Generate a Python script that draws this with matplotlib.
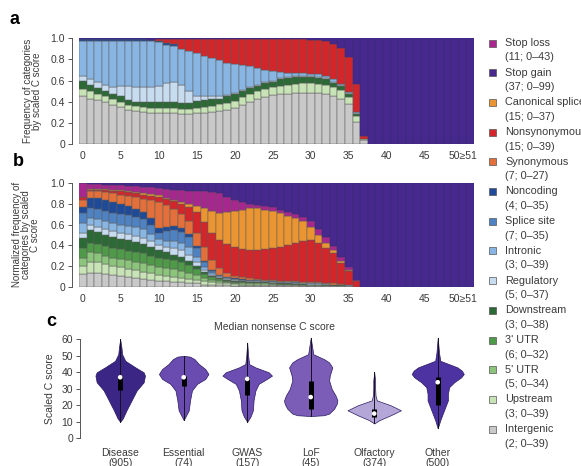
import numpy as np
import matplotlib
matplotlib.use("Agg")
import matplotlib.pyplot as plt
from matplotlib.patches import Rectangle

plt.rcParams['font.family'] = ['Liberation Sans', 'DejaVu Sans']

W, H = 581, 466
N_BARS = 52
TXT = '#3a3a3a'

# ---- colours per category ----
colors = {
    'Stop loss': '#a8278f',
    'Stop gain': '#47298e',
    'Canonical splice': '#ea9532',
    'Nonsynonymous': '#d2262b',
    'Synonymous': '#e3703a',
    'Noncoding': '#1f4a98',
    'Splice site': '#4f82c2',
    'Intronic': '#88b5e2',
    'Regulatory': '#c8dcf0',
    'Downstream': '#2c6a35',
    "3' UTR": '#4e9a48',
    "5' UTR": '#8cc47c',
    'Upstream': '#c8e4b6',
    'Intergenic': '#c9c9c9',
}
legend_names = ['Stop loss', 'Stop gain', 'Canonical splice', 'Nonsynonymous',
                'Synonymous', 'Noncoding', 'Splice site', 'Intronic', 'Regulatory',
                'Downstream', "3' UTR", "5' UTR", 'Upstream', 'Intergenic']
legend_stats = ['(11; 0\u201343)', '(37; 0\u201399)', '(15; 0\u201337)', '(15; 0\u201339)',
                '(7; 0\u201327)', '(4; 0\u201335)', '(7; 0\u201335)', '(3; 0\u201339)',
                '(5; 0\u201337)', '(3; 0\u201338)', '(6; 0\u201332)', '(5; 0\u201334)',
                '(3; 0\u201339)', '(2; 0\u201339)']

# ---- panel a: cumulative upper edge of each category, bins 0..37 (rest is stop gain) ----
a_intergenic = [0.45, 0.43, 0.42, 0.40, 0.37, 0.35, 0.32, 0.31, 0.30, 0.29, 0.29, 0.29, 0.29,
                0.28, 0.28, 0.29, 0.29, 0.30, 0.31, 0.32, 0.34, 0.37, 0.40, 0.43, 0.44, 0.46,
                0.47, 0.47, 0.48, 0.48, 0.48, 0.48, 0.47, 0.45, 0.43, 0.38, 0.21, 0.04]
a_upstream = [0.52, 0.50, 0.47, 0.45, 0.43, 0.40, 0.37, 0.36, 0.35, 0.34, 0.34, 0.34, 0.34,
              0.33, 0.33, 0.34, 0.35, 0.36, 0.38, 0.39, 0.41, 0.44, 0.47, 0.50, 0.52, 0.54,
              0.55, 0.56, 0.57, 0.58, 0.58, 0.57, 0.56, 0.54, 0.51, 0.44, 0.26, 0.05]
a_downstream = [0.60, 0.56, 0.53, 0.50, 0.47, 0.45, 0.42, 0.40, 0.40, 0.40, 0.40, 0.40, 0.40,
                0.39, 0.39, 0.41, 0.42, 0.43, 0.43, 0.45, 0.47, 0.50, 0.53, 0.55, 0.58, 0.59,
                0.61, 0.62, 0.63, 0.63, 0.63, 0.62, 0.61, 0.58, 0.55, 0.47, 0.28, 0.05]
a_regulatory = [0.64, 0.61, 0.59, 0.56, 0.54, 0.55, 0.55, 0.54, 0.54, 0.54, 0.55, 0.58, 0.59,
                0.56, 0.50, 0.45, 0.45, 0.45, 0.45, 0.46, 0.48, 0.51, 0.54, 0.56, 0.59, 0.60,
                0.62, 0.63, 0.64, 0.64, 0.64, 0.63, 0.62, 0.59, 0.56, 0.48, 0.29, 0.05]
a_intronic = [0.975, 0.975, 0.975, 0.975, 0.975, 0.975, 0.975, 0.975, 0.975, 0.97, 0.96, 0.94,
              0.93, 0.90, 0.88, 0.86, 0.83, 0.81, 0.79, 0.77, 0.76, 0.75, 0.74, 0.72, 0.70,
              0.69, 0.68, 0.675, 0.67, 0.67, 0.665, 0.66, 0.64, 0.61, 0.57, 0.49, 0.30, 0.05]
a_noncoding = [0.99, 0.99, 0.99, 0.99, 0.99, 0.99, 0.99, 0.99, 0.99, 0.985, 0.975, 0.955,
               0.945, 0.90, 0.88, 0.86, 0.83, 0.81, 0.79, 0.77, 0.76, 0.75, 0.74, 0.72, 0.70,
               0.69, 0.68, 0.675, 0.67, 0.67, 0.665, 0.66, 0.64, 0.61, 0.57, 0.49, 0.30, 0.05]
a_nonsyn = [0.99, 0.99, 0.99, 0.99, 0.99, 0.99, 0.99, 0.99, 0.99, 0.985, 0.99, 0.99, 0.99,
            0.99, 0.99, 0.99, 0.99, 0.99, 0.99, 0.99, 0.99, 0.99, 0.99, 0.99, 0.99, 0.99,
            0.99, 0.99, 0.99, 0.99, 0.985, 0.98, 0.97, 0.95, 0.91, 0.82, 0.57, 0.08]

# ---- panel b: normalized, cumulative upper edges, bins 0..37 ----
b_intergenic = [0.12, 0.13, 0.13, 0.12, 0.11, 0.10, 0.09, 0.08, 0.07, 0.06, 0.05, 0.05, 0.04,
                0.04, 0.03, 0.03, 0.02, 0.02, 0.02, 0.015, 0.01, 0.01, 0.01, 0.01, 0.01, 0.01,
                0.01, 0.01, 0.01, 0.005, 0.005, 0.005, 0.005, 0.005, 0.005, 0.005, 0.0, 0.0]
b_upstream = [0.20, 0.24, 0.24, 0.22, 0.20, 0.19, 0.17, 0.16, 0.14, 0.13, 0.11, 0.10, 0.09,
              0.08, 0.07, 0.06, 0.05, 0.04, 0.035, 0.03, 0.025, 0.02, 0.02, 0.02, 0.02, 0.02,
              0.015, 0.015, 0.015, 0.01, 0.01, 0.01, 0.01, 0.01, 0.01, 0.01, 0.0, 0.0]
b_utr5 = [0.28, 0.33, 0.32, 0.30, 0.28, 0.27, 0.26, 0.24, 0.23, 0.21, 0.19, 0.18, 0.17, 0.15,
          0.13, 0.11, 0.08, 0.06, 0.05, 0.04, 0.035, 0.03, 0.03, 0.03, 0.03, 0.025, 0.02, 0.02,
          0.02, 0.015, 0.015, 0.015, 0.01, 0.01, 0.01, 0.01, 0.0, 0.0]
b_utr3 = [0.37, 0.42, 0.41, 0.39, 0.37, 0.36, 0.34, 0.33, 0.32, 0.30, 0.28, 0.27, 0.26, 0.24,
          0.21, 0.17, 0.12, 0.09, 0.07, 0.055, 0.045, 0.04, 0.035, 0.035, 0.035, 0.03, 0.025,
          0.025, 0.02, 0.02, 0.02, 0.015, 0.015, 0.01, 0.01, 0.01, 0.0, 0.0]
b_downstream = [0.47, 0.55, 0.53, 0.50, 0.48, 0.46, 0.45, 0.43, 0.41, 0.38, 0.35, 0.33, 0.31,
                0.29, 0.25, 0.20, 0.14, 0.10, 0.08, 0.065, 0.055, 0.05, 0.045, 0.045, 0.04,
                0.035, 0.03, 0.03, 0.025, 0.025, 0.02, 0.02, 0.02, 0.015, 0.015, 0.01, 0.0, 0.0]
b_regulatory = [0.52, 0.60, 0.58, 0.56, 0.54, 0.52, 0.51, 0.49, 0.47, 0.44, 0.40, 0.38, 0.37,
                0.35, 0.31, 0.24, 0.16, 0.115, 0.09, 0.075, 0.06, 0.055, 0.05, 0.05, 0.045,
                0.04, 0.035, 0.035, 0.03, 0.03, 0.025, 0.025, 0.02, 0.02, 0.015, 0.01, 0.0, 0.0]
b_intronic = [0.61, 0.66, 0.65, 0.63, 0.61, 0.60, 0.59, 0.58, 0.56, 0.51, 0.46, 0.44, 0.44,
              0.42, 0.38, 0.29, 0.19, 0.13, 0.10, 0.085, 0.07, 0.06, 0.055, 0.055, 0.05, 0.045,
              0.04, 0.04, 0.035, 0.03, 0.03, 0.03, 0.025, 0.02, 0.02, 0.015, 0.0, 0.0]
b_splice = [0.71, 0.76, 0.75, 0.73, 0.71, 0.70, 0.69, 0.67, 0.65, 0.60, 0.52, 0.54, 0.55, 0.53,
            0.48, 0.37, 0.24, 0.15, 0.11, 0.09, 0.075, 0.065, 0.06, 0.06, 0.055, 0.05, 0.045,
            0.04, 0.04, 0.035, 0.03, 0.03, 0.025, 0.02, 0.02, 0.015, 0.0, 0.0]
b_noncoding = [0.77, 0.86, 0.86, 0.84, 0.82, 0.80, 0.78, 0.75, 0.72, 0.66, 0.57, 0.58, 0.59,
               0.57, 0.51, 0.39, 0.25, 0.16, 0.115, 0.095, 0.08, 0.07, 0.065, 0.06, 0.055, 0.05,
               0.045, 0.04, 0.04, 0.035, 0.03, 0.03, 0.025, 0.02, 0.02, 0.015, 0.0, 0.0]
b_syn = [0.84, 0.92, 0.92, 0.91, 0.90, 0.89, 0.88, 0.865, 0.85, 0.835, 0.82, 0.79, 0.75, 0.70,
         0.63, 0.52, 0.38, 0.26, 0.18, 0.13, 0.10, 0.09, 0.08, 0.07, 0.065, 0.06, 0.055, 0.05,
         0.05, 0.045, 0.04, 0.04, 0.035, 0.03, 0.025, 0.02, 0.0, 0.0]
b_nonsyn = [0.865, 0.935, 0.935, 0.93, 0.925, 0.92, 0.91, 0.90, 0.89, 0.88, 0.87, 0.845, 0.825,
            0.80, 0.77, 0.72, 0.62, 0.52, 0.45, 0.41, 0.38, 0.36, 0.355, 0.355, 0.36, 0.37,
            0.385, 0.40, 0.42, 0.44, 0.45, 0.42, 0.37, 0.32, 0.23, 0.155, 0.05, 0.0]
b_canonical = [0.87, 0.945, 0.945, 0.94, 0.935, 0.93, 0.925, 0.915, 0.905, 0.895, 0.885, 0.86,
               0.84, 0.815, 0.795, 0.78, 0.76, 0.73, 0.71, 0.72, 0.73, 0.745, 0.755, 0.755,
               0.745, 0.73, 0.71, 0.685, 0.66, 0.63, 0.58, 0.50, 0.42, 0.35, 0.25, 0.165, 0.05, 0.0]
b_stoploss = [1.0, 0.99, 0.99, 0.985, 0.98, 0.98, 0.975, 0.97, 0.965, 0.96, 0.955, 0.945, 0.935,
              0.93, 0.925, 0.92, 0.92, 0.91, 0.90, 0.87, 0.84, 0.82, 0.80, 0.79, 0.78, 0.765,
              0.745, 0.72, 0.70, 0.67, 0.63, 0.56, 0.48, 0.39, 0.29, 0.185, 0.06, 0.0]

# ---- panel c: violin outlines (score, half width in slot units) and box stats ----
groups = ['Disease', 'Essential', 'GWAS', 'LoF', 'Olfactory', 'Other']
group_n = [905, 74, 157, 45, 374, 500]
violin_colors = ['#3b2585', '#6a4bb0', '#6c4db2', '#7b5db8', '#b5a6d8', '#4d33a2']
v_scores = [
    [10, 12, 17, 23, 29, 34, 38, 40, 43, 47, 51, 55, 60],
    [11, 17, 23, 29, 33, 36, 39, 42, 45, 48, 49.5, 50],
    [10, 13, 17, 23, 29, 33, 36, 38, 40, 43, 45, 50, 58],
    [13.5, 14, 15, 18, 21, 23, 26, 30, 35, 38, 43, 46, 48, 51, 56, 61],
    [9, 11, 14, 17, 20, 23, 26, 30, 35, 40],
    [6, 11, 17, 23, 27, 31, 34, 37, 39, 41, 43, 47, 52, 61],
]
v_halfwidth = [
    [0, 0.04, 0.10, 0.18, 0.26, 0.37, 0.39, 0.37, 0.24, 0.08, 0.03, 0.02, 0],
    [0, 0.08, 0.10, 0.13, 0.21, 0.34, 0.39, 0.34, 0.24, 0.17, 0.10, 0],
    [0, 0.05, 0.09, 0.10, 0.13, 0.18, 0.31, 0.39, 0.34, 0.13, 0.03, 0.015, 0],
    [0, 0.21, 0.29, 0.37, 0.41, 0.42, 0.39, 0.33, 0.29, 0.30, 0.34, 0.29, 0.21, 0.04, 0.02, 0],
    [0, 0.08, 0.26, 0.42, 0.26, 0.04, 0.02, 0.015, 0.015, 0],
    [0, 0.04, 0.10, 0.16, 0.16, 0.18, 0.26, 0.37, 0.41, 0.38, 0.31, 0.04, 0.02, 0],
]
v_median = [37, 37, 36, 25, 15, 34]
v_q1 = [29, 32, 26, 18, 13, 20]
v_q3 = [38, 38, 37, 35, 18, 37]


def px(x, y):
    return x / W, 1 - y / H


def stacked(ax, edges, cols, top_color):
    x = np.arange(N_BARS)
    bottom = np.zeros(N_BARS)
    for edge, c in zip(edges, cols):
        top = np.zeros(N_BARS)
        top[:len(edge)] = edge
        h = top - bottom
        keep = h > 0
        ax.bar(x[keep], h[keep], bottom=bottom[keep], width=1.0, color=c,
               edgecolor='#5c5c5c', linewidth=0.35)
        bottom = top
    ax.bar(x, 1 - bottom, bottom=bottom, width=1.0, color=top_color,
           edgecolor='#3a2a70', linewidth=0.35)
    ax.set_xlim(-0.5, N_BARS - 0.5)
    ax.set_ylim(0, 1)
    ax.set_yticks([0, 0.2, 0.4, 0.6, 0.8, 1.0])
    ax.set_yticklabels(['0', '0.2', '0.4', '0.6', '0.8', '1.0'])
    ax.set_xticks([0, 5, 10, 15, 20, 25, 30, 35, 40, 45, 50])
    ax.set_xticklabels(['0', '5', '10', '15', '20', '25', '30', '35', '40', '45', '50\u226551'])
    for s in ['top', 'right', 'bottom']:
        ax.spines[s].set_visible(False)
    ax.spines['left'].set_position(('outward', 5))
    ax.spines['left'].set_color('#555555')
    ax.spines['left'].set_linewidth(0.7)
    ax.tick_params(axis='y', length=3, width=0.7, color='#555555', pad=2,
                   labelsize=7.5, labelcolor=TXT)
    ax.tick_params(axis='x', length=0, pad=5, labelsize=7.5, labelcolor=TXT)


fig = plt.figure(figsize=(W / 100, H / 100), dpi=100)

ax_a = fig.add_axes([0.136, 0.691, 0.680, 0.227])
stacked(ax_a,
        [a_intergenic, a_upstream, a_downstream, a_regulatory, a_intronic, a_noncoding, a_nonsyn],
        [colors['Intergenic'], colors['Upstream'], colors['Downstream'], colors['Regulatory'],
         colors['Intronic'], colors['Noncoding'], colors['Nonsynonymous']],
        colors['Stop gain'])
ax_a.set_ylabel('Frequency of categories\nby scaled C score', fontsize=7, color=TXT,
                linespacing=0.85)
ax_a.yaxis.set_label_coords(-0.094, 0.5)

ax_b = fig.add_axes([0.136, 0.385, 0.680, 0.222])
stacked(ax_b,
        [b_intergenic, b_upstream, b_utr5, b_utr3, b_downstream, b_regulatory, b_intronic,
         b_splice, b_noncoding, b_syn, b_nonsyn, b_canonical, b_stoploss],
        [colors['Intergenic'], colors['Upstream'], colors["5' UTR"], colors["3' UTR"],
         colors['Downstream'], colors['Regulatory'], colors['Intronic'], colors['Splice site'],
         colors['Noncoding'], colors['Synonymous'], colors['Nonsynonymous'],
         colors['Canonical splice'], colors['Stop loss']],
        colors['Stop gain'])
ax_b.set_ylabel('Normalized frequency of\ncategories by scaled\nC score', fontsize=7,
                color=TXT, linespacing=0.85)
ax_b.yaxis.set_label_coords(-0.1, 0.5)

# violins
ax_c = fig.add_axes([0.138, 0.0594, 0.681, 0.2124])
for i in range(len(groups)):
    ys = np.array(v_scores[i], dtype=float)
    hw = np.array(v_halfwidth[i])
    ax_c.fill_betweenx(ys, i - hw, i + hw, facecolor=violin_colors[i],
                       edgecolor='#2a1a60', linewidth=0.5, clip_on=False, zorder=2)
    ax_c.plot([i, i], [ys.min(), ys.max()], color='#151020', lw=0.7, clip_on=False, zorder=3)
    ax_c.plot([i, i], [v_q1[i], v_q3[i]], color='black', lw=3.6, solid_capstyle='butt', zorder=4)
    ax_c.scatter([i], [v_median[i]], s=11, color='white', edgecolors='none', zorder=5)
ax_c.set_xlim(-0.63, 5.6)
ax_c.set_ylim(0, 60)
ax_c.set_yticks([0, 10, 20, 30, 40, 50, 60])
ax_c.set_xticks(range(len(groups)))
ax_c.set_xticklabels([f'{g}\n({n})' for g, n in zip(groups, group_n)], linespacing=1.0)
for s in ['top', 'right', 'bottom']:
    ax_c.spines[s].set_visible(False)
ax_c.spines['left'].set_color('#555555')
ax_c.spines['left'].set_linewidth(0.7)
ax_c.tick_params(axis='y', length=3, width=0.7, color='#555555', pad=2,
                 labelsize=7.5, labelcolor=TXT)
ax_c.tick_params(axis='x', length=0, pad=7, labelsize=7.5, labelcolor=TXT)
ax_c.set_ylabel('Scaled C score', fontsize=7.5, color=TXT)
ax_c.yaxis.set_label_coords(-0.063, 0.5)
fig.text(*px(275, 327), 'Median nonsense C score', ha='center', va='center',
         fontsize=7.5, color=TXT)

# panel letters
fig.text(*px(15, 19), 'a', ha='center', va='center', fontsize=13, fontweight='bold')
fig.text(*px(18, 162), 'b', ha='center', va='center', fontsize=13, fontweight='bold')
fig.text(*px(51, 322), 'c', ha='center', va='center', fontsize=13, fontweight='bold')

# legend
for i, (name, stat) in enumerate(zip(legend_names, legend_stats)):
    y = 43 + 29.7 * i
    x0, y0 = px(488.5, y + 3.5)
    fig.add_artist(Rectangle((x0, y0), 7 / W, 7 / H, transform=fig.transFigure,
                             facecolor=colors[name], edgecolor='#555555', linewidth=0.5))
    fig.text(*px(505, y), name, ha='left', va='center', fontsize=7.8, color=TXT)
    fig.text(*px(505, y + 14.5), stat, ha='left', va='center', fontsize=7.8, color=TXT)

fig.savefig('out.png', dpi=100)
